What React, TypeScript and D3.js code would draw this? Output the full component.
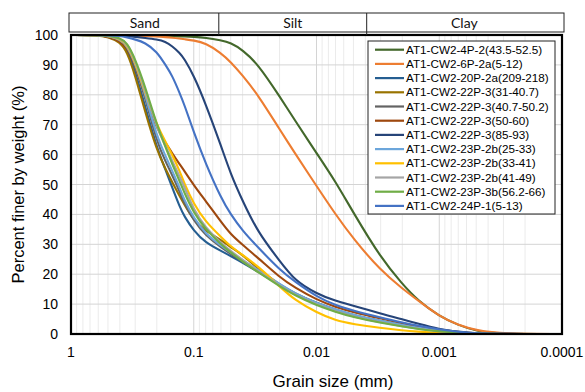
import React from 'react';
import * as d3 from 'd3';

const grainSizes = [1, 0.6, 0.5, 0.4, 0.35, 0.3, 0.25, 0.2, 0.17, 0.15, 0.13, 0.12, 0.1, 0.08, 0.06, 0.05, 0.04, 0.03, 0.02, 0.015, 0.01, 0.007, 0.005, 0.003, 0.002, 0.0015, 0.001, 0.0007, 0.0005, 0.0003, 0.0001];

const seriesNames = [
  'AT1-CW2-4P-2(43.5-52.5)',
  'AT1-CW2-6P-2a(5-12)',
  'AT1-CW2-20P-2a(209-218)',
  'AT1-CW2-22P-3(31-40.7)',
  'AT1-CW2-22P-3(40.7-50.2)',
  'AT1-CW2-22P-3(50-60)',
  'AT1-CW2-22P-3(85-93)',
  'AT1-CW2-23P-2b(25-33)',
  'AT1-CW2-23P-2b(33-41)',
  'AT1-CW2-23P-2b(41-49)',
  'AT1-CW2-23P-3b(56.2-66)',
  'AT1-CW2-24P-1(5-13)',
];

const seriesColors = ['#43682B', '#ED7D31', '#255E91', '#997300', '#636363', '#9E480E', '#264478', '#6CA6DB', '#FFC000', '#A5A5A5', '#70AD47', '#4472C4'];

const p4P2 = [100, 100, 100, 100, 100, 99.9, 99.8, 99.7, 99.6, 99.6, 99.5, 99.5, 99.4, 99.1, 98.2, 97.4, 95, 90.3, 79.5, 71.5, 60.5, 51, 40.5, 25.5, 16.7, 11.3, 5.9, 3, 0.9, 0, 0];
const p6P2a = [100, 100, 100, 99.9, 99.9, 99.8, 99.7, 99.5, 99.3, 99.1, 98.8, 98.6, 98.2, 97.3, 94, 91, 86.5, 80, 68.5, 60.5, 49.5, 40, 31.8, 21.2, 15.2, 11.3, 5.9, 3, 1.2, 0, 0];
const p20P2a = [100, 100, 99.5, 98, 95.5, 87.8, 76.4, 62.3, 55, 49, 42.5, 39.5, 34.5, 30.5, 27.8, 26.1, 23.9, 20.8, 16.5, 13.4, 10.4, 8.1, 6.2, 4.3, 2.9, 2.1, 1, 0.5, 0.1, 0, 0];
const p22P3a = [100, 100, 99.3, 97.7, 94.5, 86.5, 74.5, 61.4, 55.2, 50.8, 46, 43.5, 38, 34.5, 31.5, 29, 26.5, 21.8, 16.5, 13.5, 10.2, 8, 6.2, 4.3, 2.8, 2, 1, 0.4, 0.1, 0, 0];
const p22P3b = [100, 100, 99.6, 98.2, 96.5, 89.5, 79.5, 64.3, 57.7, 53.2, 47.5, 44, 37.8, 33, 29, 26.8, 24.3, 21, 16.5, 13.3, 10.2, 8, 6.2, 4.2, 2.8, 2, 1, 0.4, 0.1, 0, 0];
const p22P3c = [100, 100, 99.5, 98, 96, 90, 80, 68.5, 64, 60.5, 56.7, 54.7, 49.8, 44.5, 37.5, 33.3, 29.8, 25.5, 19, 15.5, 11.5, 9, 7.3, 5.2, 3.6, 2.6, 1.4, 0.6, 0.15, 0, 0];
const p22P3d = [100, 100, 100, 99.9, 99.7, 99.4, 99, 98.5, 97.8, 96.3, 94, 92.2, 86.5, 77, 63, 53.5, 44.5, 34, 24.5, 17.8, 13.5, 11, 9.5, 6.8, 4.9, 3.5, 1.6, 0.8, 0.2, 0, 0];
const p23P2a = [100, 100, 99.7, 98.5, 96.5, 90.5, 80.6, 66, 59.6, 54.6, 48.9, 45, 38.8, 33.5, 29.5, 27.3, 24.7, 21.4, 16.8, 13.6, 10.4, 8.2, 6.4, 4.4, 3, 2.1, 1.1, 0.5, 0.1, 0, 0];
const p23P2b = [100, 100, 99.7, 98.7, 97, 91, 81, 70, 64.3, 60, 54.5, 50.5, 43.5, 37.5, 32.5, 29.3, 26.4, 22.7, 15.9, 11.3, 7.2, 4.5, 3.3, 2, 1.2, 0.8, 0.4, 0.15, 0, 0, 0];
const p23P2c = [100, 100, 99.7, 98.8, 97.3, 91.5, 82, 68.8, 63, 58, 52.5, 49.5, 41.5, 35.5, 30.5, 27.8, 24.8, 21, 16.3, 13.1, 9.9, 7.6, 5.8, 3.9, 2.6, 1.8, 0.9, 0.4, 0.1, 0, 0];
const p23P3b = [100, 100, 99.8, 99, 97.5, 92, 83, 70, 62.5, 56.9, 51, 47.5, 40.5, 35, 30, 27.3, 24.2, 20.7, 16, 12.9, 9.6, 7.4, 5.6, 3.7, 2.5, 1.7, 0.9, 0.4, 0.1, 0, 0];
const p24P1 = [100, 100, 99.9, 99.7, 99.2, 98.5, 97.5, 94.5, 90, 86.5, 80.5, 77, 67.5, 57, 45.5, 40, 34.5, 29, 21.5, 17.5, 12.5, 9.6, 7.8, 5.5, 3.8, 2.8, 1.5, 0.7, 0.2, 0, 0];

const seriesValues = [p4P2, p6P2a, p20P2a, p22P3a, p22P3b, p22P3c, p22P3d, p23P2a, p23P2b, p23P2c, p23P3b, p24P1];

const yTicks = [0, 10, 20, 30, 40, 50, 60, 70, 80, 90, 100];
const xTickValues = [1, 0.1, 0.01, 0.001, 0.0001];
const xTickLabels = ['1', '0.1', '0.01', '0.001', '0.0001'];
const bandLabels = ['Sand', 'Silt', 'Clay'];
const bandBounds = [1, 0.0625, 0.0039, 0.0001];

export default function App() {
  const W = 585;
  const H = 392;
  const left = 71, right = 562, top = 35, bottom = 334;
  const x = d3.scaleLog().domain([1, 0.0001]).range([left, right]);
  const y = d3.scaleLinear().domain([0, 100]).range([bottom, top]);
  const line = d3
    .line<[number, number]>()
    .x((d) => x(d[0]))
    .y((d) => y(d[1]))
    .curve(d3.curveBasis);

  const minor: number[] = [];
  [1, 0.1, 0.01, 0.001].forEach((dec) => {
    for (let k = 2; k <= 9; k++) minor.push((dec * k) / 10);
  });

  const font = "'Liberation Sans', Arial, sans-serif";
  const legX = 368, legY = 41, legW = 187, legH = 173, rowH = 14.2;
  const bandTop = 13, bandBot = 32;

  return (
    <svg
      width={W}
      height={H}
      style={{ position: 'absolute', left: 0, top: 0, display: 'block', background: '#fff' }}
      fontFamily={font}
    >
      <rect x={0} y={0} width={W} height={H} fill="#fff" />
      <defs>
        <clipPath id="plotClip">
          <rect x={left} y={top - 2} width={right - left} height={bottom - top + 2} />
        </clipPath>
      </defs>
      {minor.map((v, i) => (
        <line key={'mn' + i} x1={x(v)} x2={x(v)} y1={top} y2={bottom} stroke="#ebebeb" strokeWidth={1} />
      ))}
      {xTickValues.map((v, i) => (
        <line key={'mj' + i} x1={x(v)} x2={x(v)} y1={top} y2={bottom} stroke="#d4d4d4" strokeWidth={1} />
      ))}
      {yTicks.map((v) => (
        <line key={'h' + v} x1={left} x2={right} y1={y(v)} y2={y(v)} stroke="#d4d4d4" strokeWidth={1} />
      ))}
      <g clipPath="url(#plotClip)">
        {seriesValues.map((vals, si) => {
          const pts = grainSizes.map((d, i) => [d, vals[i]] as [number, number]);
          return (
            <path key={'s' + si} d={line(pts) || ''} fill="none" stroke={seriesColors[si]} strokeWidth={2.1} strokeLinejoin="round" />
          );
        })}
      </g>
      <rect x={left} y={top} width={right - left} height={bottom - top} fill="none" stroke="#000" strokeWidth={2.2} />
      <rect
        x={x(bandBounds[0]) - 2}
        y={bandTop}
        width={x(bandBounds[3]) - x(bandBounds[0]) + 4}
        height={bandBot - bandTop}
        fill="#fff"
        stroke="#222"
        strokeWidth={1}
      />
      {bandBounds.slice(1, 3).map((b, i) => (
        <line key={'bd' + i} x1={x(b)} x2={x(b)} y1={bandTop} y2={top} stroke="#222" strokeWidth={1} />
      ))}
      {bandLabels.map((lab, i) => (
        <text
          key={'bl' + i}
          x={(x(bandBounds[i]) + x(bandBounds[i + 1])) / 2}
          y={bandBot - 4.5}
          textAnchor="middle"
          fontSize={14}
          fontFamily="Lato, 'Open Sans', sans-serif"
          fill="#111"
        >
          {lab}
        </text>
      ))}
      {yTicks.map((v) => (
        <text key={'yt' + v} x={58} y={y(v) + 5} textAnchor="end" fontSize={14} fill="#000">
          {v}
        </text>
      ))}
      {xTickValues.map((v, i) => (
        <text key={'xt' + i} x={x(v)} y={357} textAnchor="middle" fontSize={14} fill="#000">
          {xTickLabels[i]}
        </text>
      ))}
      <text x={333} y={387} textAnchor="middle" fontSize={17} fill="#000">
        Grain size (mm)
      </text>
      <text
        transform={`translate(24, ${(top + bottom) / 2}) rotate(-90)`}
        textAnchor="middle"
        fontSize={16.5}
        fill="#000"
      >
        Percent finer by weight (%)
      </text>
      <rect x={legX} y={legY} width={legW} height={legH} fill="#fff" stroke="#222" strokeWidth={1} />
      {seriesNames.map((name, i) => {
        const cy = legY + 8.7 + i * rowH;
        return (
          <g key={'lg' + i}>
            <line x1={375} x2={404} y1={cy} y2={cy} stroke={seriesColors[i]} strokeWidth={2.2} />
            <text x={406} y={cy + 4.1} fontSize={11.7} fill="#000">
              {name}
            </text>
          </g>
        );
      })}
    </svg>
  );
}
